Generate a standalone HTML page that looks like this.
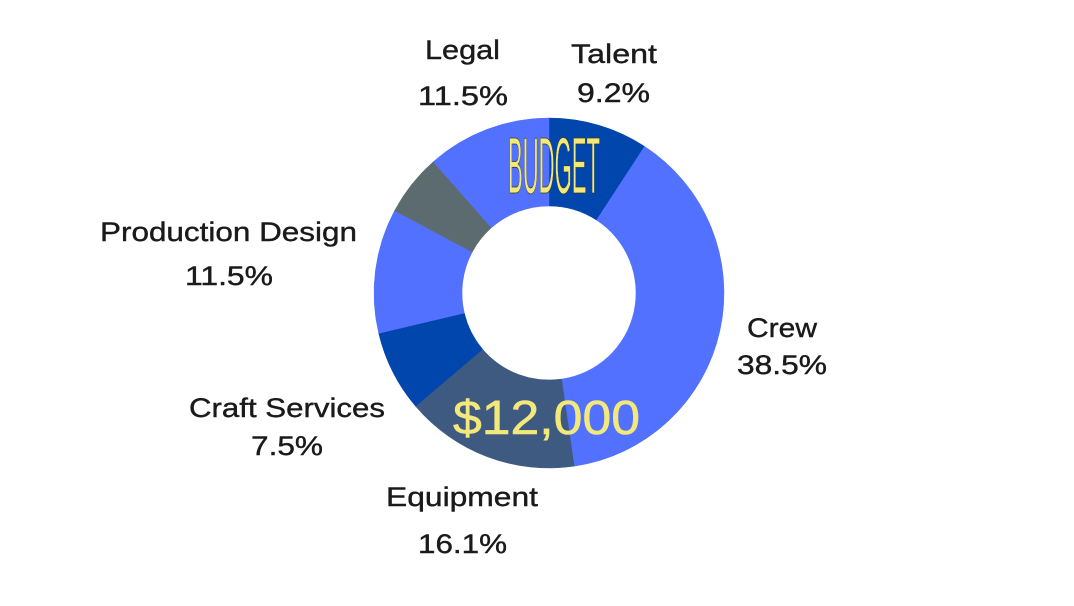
<!DOCTYPE html>
<html><head><meta charset="utf-8"><style>
html,body{margin:0;padding:0;background:#fff;}
svg{display:block;}
text{font-family:"Liberation Sans",sans-serif;fill:#1a1a1a;}
</style></head><body>
<svg id="s" width="1074" height="606" viewBox="0 0 1074 606">
<g id="slices"></g>
<g font-size="27" style="stroke:#1a1a1a;stroke-width:0.4" lengthAdjust="spacingAndGlyphs">
<text x="425" y="59" textLength="75" lengthAdjust="spacingAndGlyphs">Legal</text><text x="418" y="105" textLength="90" lengthAdjust="spacingAndGlyphs">11.5%</text>
<text x="571" y="63" textLength="86" lengthAdjust="spacingAndGlyphs">Talent</text><text x="577" y="102" textLength="73" lengthAdjust="spacingAndGlyphs">9.2%</text>
<text x="100" y="241" textLength="257" lengthAdjust="spacingAndGlyphs">Production Design</text><text x="185" y="285" textLength="88" lengthAdjust="spacingAndGlyphs">11.5%</text>
<text x="747" y="337" textLength="70" lengthAdjust="spacingAndGlyphs">Crew</text><text x="737" y="374" textLength="90" lengthAdjust="spacingAndGlyphs">38.5%</text>
<text x="189" y="417" textLength="196" lengthAdjust="spacingAndGlyphs">Craft Services</text><text x="251" y="455" textLength="72" lengthAdjust="spacingAndGlyphs">7.5%</text>
<text x="386" y="506" textLength="152" lengthAdjust="spacingAndGlyphs">Equipment</text><text x="418" y="553" textLength="89" lengthAdjust="spacingAndGlyphs">16.1%</text>
</g>
<text x="508" y="193" font-size="80" textLength="92" lengthAdjust="spacingAndGlyphs" style="fill:#f3e87a;stroke:#3a3a20;stroke-width:0.8">BUDGET</text>
<text x="453" y="434" font-size="48" textLength="187" lengthAdjust="spacingAndGlyphs" style="fill:#f3e87a;stroke:#f3e87a;stroke-width:0.6">$12,000</text>
</svg>
<script>
var cx=549,cy=293,R=175,r=87;
var d=[[9.2,"#0046ad"],[38.5,"#5271ff"],[16.1,"#3f5a80"],[7.5,"#0046ad"],[11.5,"#5271ff"],[5.7,"#5c6b70"],[11.5,"#5271ff"]];
var a=0,g=document.getElementById("slices"),h="";
function p(rad,ang){return [cx+rad*Math.sin(ang),cy-rad*Math.cos(ang)];}
d.forEach(function(s){
 var a0=a/100*2*Math.PI;a+=s[0];var a1=a/100*2*Math.PI;
 var lg=(a1-a0)>Math.PI?1:0;
 var o0=p(R,a0),o1=p(R,a1),i1=p(r,a1),i0=p(r,a0);
 h+='<path fill="'+s[1]+'" stroke="'+s[1]+'" stroke-width="0.5" d="M'+o0+' A'+R+','+R+' 0 '+lg+' 1 '+o1+' L'+i1+' A'+r+','+r+' 0 '+lg+' 0 '+i0+' Z"/>';
});
g.innerHTML=h;
</script>
</body></html>
